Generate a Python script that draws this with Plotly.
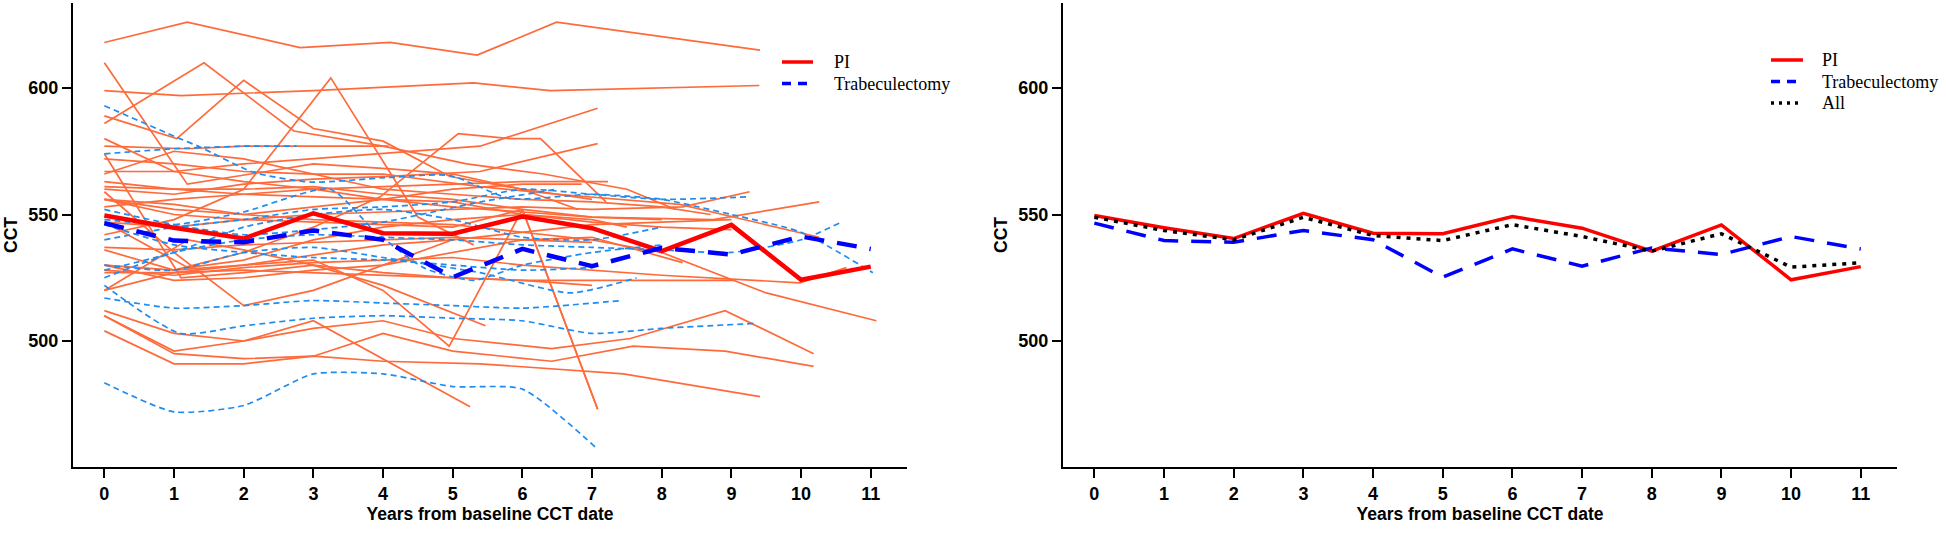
import plotly.graph_objs as go

# mean CCT by year (right panel + bold lines on left)
years = [0, 1, 2, 3, 4, 5, 6, 7, 8, 9, 10, 11]
pi_mean = [549.6, 544.8, 540.5, 550.5, 542.6, 542.4, 549.2, 544.6, 535.5, 545.9, 524.2, 529.4]
trab_mean = [546.6, 539.7, 539.0, 543.7, 540.0, 525.2, 536.4, 529.6, 536.8, 534.2, 541.3, 536.4]
all_mean = [548.9, 543.7, 540.0, 548.9, 541.7, 539.7, 546.0, 541.3, 535.5, 542.4, 529.2, 530.9]

# individual PI eyes (years from baseline, CCT)
pi_years = [
    [0, 1.19, 2.81, 4.1, 5.35, 6.49, 9.41],
    [0, 1.1, 3, 5.3, 6.4, 9.4],
    [0, 1.19, 2.1, 3, 4.1, 5, 6, 7],
    [0, 1.43, 2.72, 4, 5.2, 6.3, 7.5, 8.2],
    [0, 1.04, 2, 3, 4, 4.96, 6, 6.8],
    [0, 1, 2, 3.25, 4.5, 5.3],
    [0, 1.2, 2, 3, 4.08],
    [0, 1, 2, 3, 3.96, 5.08, 5.83, 6.26, 7.2],
    [0, 1, 2, 3, 4, 5, 6, 7.08],
    [0, 1, 2, 3, 4, 5.39, 7.08],
    [0, 1, 2, 3, 4, 5.39, 7.08],
    [0, 1, 2, 3, 4, 5, 6, 7.23],
    [0, 1, 2, 3, 4, 5, 6, 7, 8.3, 9.26],
    [0, 1, 2, 3, 4, 5, 6, 7, 8.74, 10.26],
    [0, 1, 2, 3, 4, 5.39, 6.5, 8.26, 10.26],
    [0, 1, 2, 3, 4, 5, 6, 7, 8, 9.98, 10.65],
    [0, 1, 2, 3, 4, 5, 6, 7, 8, 9.5, 11.08],
    [0, 1, 2, 3, 4, 5, 6.42, 7.55, 8.91, 10.18],
    [0, 1, 2, 3, 4, 5, 6.42, 7.59, 8.91, 10.18],
    [0, 1, 2, 3, 4, 5.39, 7.45, 9.41],
    [0, 1, 2, 3, 5.25],
    [0, 1, 2, 3, 4, 4.95, 6.0, 7.08],
    [0, 1, 2, 3, 4, 5, 6, 7, 8, 9],
    [0, 1, 2, 3, 4, 5, 6, 7, 8.3],
    [0, 1, 2, 3, 4, 5, 6, 7, 8, 9.05],
    [0, 1.2, 2, 3, 4, 5.47],
    [0, 1, 2, 3, 4, 5, 6, 7, 7.5],
    [0, 1, 2, 3, 4, 5, 6, 6.85],
    [0, 1.2, 2, 3, 4, 5, 6, 7, 8, 9],
    [0, 1, 2, 3, 4, 5, 6, 7],
    [0, 1, 2, 3, 4, 5, 6, 7, 8],
    [0, 1, 2, 3, 4, 5, 6, 7, 8, 8.7],
    [0, 1, 2, 3, 4, 5],
    [0, 1.1, 2, 3, 4, 5, 6, 7],
]
pi_cct = [
    [618, 626, 616, 618, 613, 626, 615],
    [599, 597, 599, 602, 599, 601],
    [610, 562, 566, 570, 568, 566, 560, 556],
    [586, 610, 583, 577, 570, 566, 560, 552],
    [589, 580, 603, 584, 579, 565, 560, 552],
    [542, 548, 560, 604, 549, 538],
    [577, 576, 577, 577, 577],
    [530, 528, 535, 545, 557, 582, 580, 580, 555],
    [556, 550, 548, 547, 546, 545, 552, 473],
    [567, 567, 570, 572, 574, 577, 592],
    [560, 558, 562, 564, 565, 567, 578],
    [553, 556, 558, 560, 561, 562, 563, 563],
    [547, 545, 548, 550, 551, 552, 553, 552, 553, 559],
    [563, 560, 560, 561, 558, 556, 552, 549, 548, 555],
    [572, 570, 567, 566, 566, 561, 558, 554, 541],
    [528, 526, 529, 531, 532, 533, 530, 528, 526, 523, 529],
    [556, 552, 550, 548, 547, 546, 543, 540, 535, 519, 508],
    [512, 503, 500, 505, 508, 501, 497, 501, 512, 495],
    [510, 495, 493, 494, 503, 496, 492, 498, 496, 490],
    [504, 491, 491, 494, 492, 491, 487, 478],
    [510, 496, 500, 508, 474],
    [520, 527, 530, 532, 520, 498, 552, 473],
    [536, 528, 530, 534, 538, 540, 543, 546, 547, 548],
    [530, 524, 525, 528, 530, 535, 540, 541, 531],
    [527, 527, 528, 527, 526, 525, 524, 524, 524, 524],
    [520, 540, 536, 530, 522, 506],
    [561, 560, 558, 557, 556, 555, 550, 548, 545],
    [556, 554, 550, 553, 556, 560, 562, 562],
    [547, 529, 532, 540, 545, 548, 550, 547, 545, 544],
    [537, 536, 538, 539, 540, 541, 540, 539],
    [580, 567, 563, 560, 556, 553, 551, 549, 548],
    [566, 575, 572, 566, 560, 558, 556, 555, 553, 550],
    [559, 535, 514, 520, 530, 540],
    [574, 525, 527, 530, 527, 525, 524, 522],
]

# individual trabeculectomy eyes
trab_years = [
    [0, 1, 2, 3, 4, 5, 6, 7.05],
    [0, 1.04, 1.38, 2.14, 2.96, 4.1, 4.96, 5.83, 7, 8, 9, 10, 11.03],
    [0, 1, 2, 2.76],
    [0, 1, 2, 3, 4, 5, 6, 7, 8, 9.25],
    [0, 1, 2, 3, 4, 5, 6, 7.43],
    [0, 1.09, 2, 3, 4, 5, 6, 7, 8, 9.36],
    [0, 1, 2, 3.24, 3.86, 4.58, 5.3, 6, 7, 8],
    [0, 1, 2, 3, 4, 5, 6, 7, 8, 9, 10, 10.58],
    [0, 1, 2, 3, 4, 5, 6, 7],
    [0, 1, 2, 3, 4, 5.4, 6.5],
    [0, 1, 2, 3, 4, 5, 6, 7, 8],
    [0, 1, 2, 3, 4, 5.39, 6.69, 7.64],
]
trab_cct = [
    [483.5, 472, 474.5, 487, 487, 482, 481, 458],
    [593, 580.5, 576.6, 566.7, 562.8, 564.7, 565.4, 556.3, 558, 556, 550, 543, 527],
    [574, 576, 577, 577],
    [540, 545, 548, 552, 553, 555, 560, 558, 556, 557],
    [517, 513, 514, 516, 515, 514, 513, 516],
    [522, 503, 506, 509, 510, 509, 508, 503, 505, 507],
    [548, 546, 551, 560, 544, 529, 524, 530, 535, 538],
    [525, 535, 540, 542, 541, 540, 538, 537, 536, 535, 540, 547],
    [546, 538, 535, 533, 532, 530, 528, 529],
    [552, 546, 542, 544, 547, 555, 560],
    [528, 535, 545, 550, 552, 548, 541, 540, 545],
    [530, 528, 535, 537, 533, 527, 519, 525],
]

# legend labels for each panel
left_labels = ['PI', 'Trabeculectomy']
right_labels = ['PI', 'Trabeculectomy', 'All']

ORANGE = '#FF6A3A'
LIGHTBLUE = '#1E8CF0'
W, H = 1946, 540
TOP, BOT = 3, 73

data = []
for t, c in zip(pi_years, pi_cct):
    data.append(go.Scatter(x=t, y=c, mode='lines', showlegend=False, hoverinfo='skip',
                           line=dict(color=ORANGE, width=1.7), xaxis='x', yaxis='y'))
for t, c in zip(trab_years, trab_cct):
    data.append(go.Scatter(x=t, y=c, mode='lines', showlegend=False, hoverinfo='skip',
                           line=dict(color=LIGHTBLUE, width=1.7, dash='6px,4px', shape='spline', smoothing=0.6),
                           xaxis='x', yaxis='y'))

# bold means on the left panel
data.append(go.Scatter(x=years, y=pi_mean, mode='lines', name='PI', showlegend=False,
                       line=dict(color='#FF0000', width=4.5), xaxis='x', yaxis='y'))
data.append(go.Scatter(x=years, y=trab_mean, mode='lines', name='Trabeculectomy', showlegend=False,
                       line=dict(color='#0000FF', width=4.5, dash='20px,13px'), xaxis='x', yaxis='y'))

# right panel means
data.append(go.Scatter(x=years, y=pi_mean, mode='lines', name='PI', showlegend=False,
                       line=dict(color='#FF0000', width=3.5), xaxis='x2', yaxis='y2'))
data.append(go.Scatter(x=years, y=trab_mean, mode='lines', name='Trabeculectomy', showlegend=False,
                       line=dict(color='#0000FF', width=3.5, dash='20px,13px'), xaxis='x2', yaxis='y2'))
data.append(go.Scatter(x=years, y=all_mean, mode='lines', name='All', showlegend=False,
                       line=dict(color='#000000', width=3.5, dash='4px,6px'), xaxis='x2', yaxis='y2'))

tickfont = dict(family='Liberation Sans, Arial', size=18, color='black', weight='bold')
titlefont = dict(family='Liberation Sans, Arial', size=17.5, color='black', weight='bold')
legfont = dict(family='Liberation Serif, Times New Roman', size=18, color='black')


def xax(domain, anchor):
    return dict(domain=domain, anchor=anchor, range=[-0.45, 11.52], tickvals=years,
                showline=True, linecolor='black', linewidth=2, ticks='outside', ticklen=9,
                tickwidth=2, tickcolor='black', showgrid=False, zeroline=False, tickfont=tickfont,
                title=dict(text='Years from baseline CCT date', font=titlefont, standoff=2))


def yax(anchor):
    return dict(anchor=anchor, domain=[0, 1], range=[450.2, 633.6], tickvals=[500, 550, 600],
                showline=True, linecolor='black', linewidth=2, ticks='outside', ticklen=9,
                tickwidth=2, tickcolor='black', showgrid=False, zeroline=False, tickfont=tickfont,
                title=dict(text='CCT', font=titlefont, standoff=6))


def px_x(p):
    return p / W


def px_y(p):
    return 1 - (p - TOP) / (H - TOP - BOT)


# hand-drawn legends (tighter row spacing than plotly's own legend)
shapes = []
annotations = []
legend_styles = [dict(color='#FF0000', width=3.5), dict(color='#0000FF', width=3.5, dash='9px,7px'),
                 dict(color='#000000', width=3.5, dash='3px,5px')]
for labels, x0, x1, xt, y0 in [(left_labels, 782, 813, 832, 62), (right_labels, 1771, 1803, 1820, 60)]:
    for i, lab in enumerate(labels):
        yy = y0 + i * 21.5
        shapes.append(dict(type='line', xref='paper', yref='paper', x0=px_x(x0), x1=px_x(x1),
                           y0=px_y(yy), y1=px_y(yy), line=legend_styles[i]))
        annotations.append(dict(text=lab, xref='paper', yref='paper', x=px_x(xt), y=px_y(yy),
                                xanchor='left', yanchor='middle', showarrow=False, font=legfont))

layout = go.Layout(
    width=W, height=H,
    margin=dict(l=0, r=0, t=TOP, b=BOT),
    plot_bgcolor='white', paper_bgcolor='white',
    xaxis=xax([73 / W, 907 / W], 'y'),
    yaxis=yax('x'),
    xaxis2=xax([1063 / W, 1897 / W], 'y2'),
    yaxis2=yax('x2'),
    shapes=shapes,
    annotations=annotations,
    showlegend=False,
    hovermode='closest',
)

fig = go.Figure(data=data, layout=layout)
# drop the browser's default body margin so the figure sits at 0,0; no modebar
fig.write_html("out.html", config={'displayModeBar': False},
               post_script="document.body.style.margin='0';")
